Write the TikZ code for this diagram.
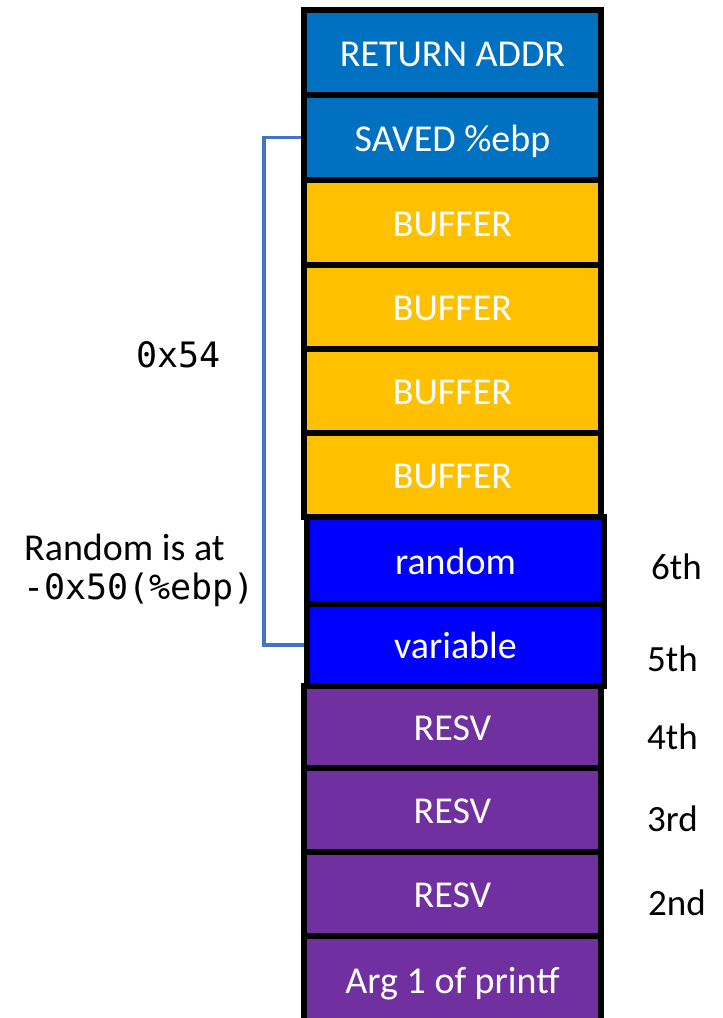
\documentclass[tikz,border=0pt]{standalone}
\usepackage{fontspec}
\setmainfont{Carlito}
\newfontfamily\codefont{DejaVu Sans Mono}
\definecolor{frameblue}{HTML}{0070C0}
\definecolor{bufyellow}{HTML}{FFC000}
\definecolor{varblue}{HTML}{0000FF}
\definecolor{resvpurple}{HTML}{7030A0}
\definecolor{bracketblue}{HTML}{4472C4}
\tikzset{
  cell/.style={draw=black, line width=6pt, text=white, inner sep=0pt,
    minimum width=297pt, text height=27.5pt, text depth=0pt,
    font=\fontsize{38}{44}\selectfont},
  sidelabel/.style={anchor=west, inner sep=0pt, font=\fontsize{37}{44}\selectfont},
  codelabel/.style={inner sep=0pt, font=\codefont\fontsize{35}{42}\selectfont},
}
\begin{document}
\begin{tikzpicture}[x=1pt, y=-1pt]
\useasboundingbox (0,0) rectangle (723,1018);
% stack frame cells, top to bottom
\node[cell, fill=frameblue, minimum height=85pt] (ret) at (452.5,52.5) {RETURN ADDR};
\node[cell, fill=frameblue, minimum height=85pt] (sav) at (452.5,137.5) {SAVED \%ebp};
\node[cell, fill=bufyellow, minimum height=85pt] (bufa) at (452.5,222.5) {BUFFER};
\node[cell, fill=bufyellow, minimum height=84pt] (bufb) at (452.5,307) {BUFFER};
\node[cell, fill=bufyellow, minimum height=84pt] (bufc) at (452.5,391) {BUFFER};
\node[cell, fill=bufyellow, minimum height=84pt] (bufd) at (452.5,475) {BUFFER};
\node[cell, fill=varblue, minimum height=87pt] (rnd) at (455.5,560.5) {random};
\node[cell, fill=varblue, minimum height=82pt] (var) at (455.5,645) {variable};
\node[cell, fill=resvpurple, minimum height=82pt] (resa) at (452.5,727) {RESV};
\node[cell, fill=resvpurple, minimum height=84pt] (resb) at (452.5,810) {RESV};
\node[cell, fill=resvpurple, minimum height=84pt] (resc) at (452.5,894) {RESV};
\node[cell, fill=resvpurple, minimum height=88pt] (arg) at (452.5,980) {Arg 1 of printf};
% bracket spanning saved %ebp down to the variable
\draw[bracketblue, line width=3.3pt] (sav.west) -- ++(-37,0) |- (var.west);
% offsets
\node[codelabel] (off) at (178.5,355) {0x54};
\node[anchor=west, inner sep=0pt, font=\fontsize{38}{44}\selectfont] (rndat) at (24,547) {Random is at};
\node[codelabel, anchor=west] (rndoff) at (23,590) {-0x50(\%ebp)};
% printf argument positions
\node[sidelabel] (p6) at (651,567) {6th};
\node[sidelabel] (p5) at (647,659) {5th};
\node[sidelabel] (p4) at (647,737) {4th};
\node[sidelabel] (p3) at (647,819) {3rd};
\node[sidelabel] (p2) at (648,903) {2nd};
\end{tikzpicture}
\end{document}
